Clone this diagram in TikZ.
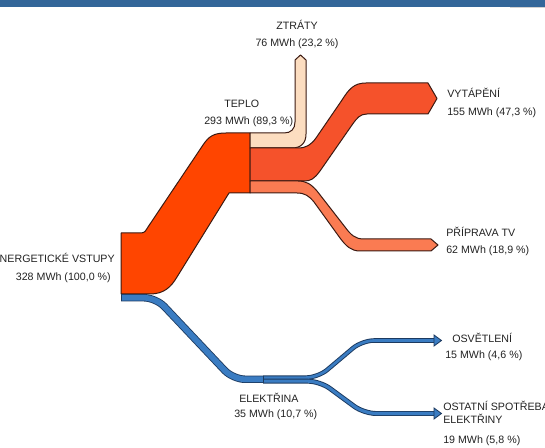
\documentclass[tikz,border=0pt]{standalone}
\usepackage{fontspec}
\setmainfont{Liberation Sans}
\definecolor{barblue}{HTML}{336699}
\definecolor{heatred}{HTML}{FF4500}
\definecolor{spaceheat}{HTML}{F5522B}
\definecolor{hotwater}{HTML}{FA7B52}
\definecolor{losses}{HTML}{FCDDC0}
\definecolor{elecblue}{HTML}{3A7CC2}
\definecolor{redline}{HTML}{3B1A12}
\definecolor{blueline}{HTML}{1C3A60}
\definecolor{txt}{HTML}{222222}
\tikzset{
  flow/.style={draw=redline, line width=0.75pt, line join=round},
  lbl/.style={inner sep=0pt, text=txt, font=\fontsize{8}{9.5}\selectfont},
  elecpath/.style={rounded corners=9pt, line cap=butt, line join=round},
  tipstyle/.style={draw=blueline, fill=elecblue, line width=0.6pt, line join=miter},
}
\begin{document}
\begin{tikzpicture}[x=0.75pt,y=-0.75pt]
\useasboundingbox (0,0) rectangle (545,448);
\clip (0,0) rectangle (545,448);

% title strip
\fill[barblue] (0,0) rectangle (545,7);
\fill[black!18] (510,7) rectangle (545,8.2);

% total input split into heat (orange) part
\draw[flow, fill=heatred] (121,294) -- (121,233) -- (141,233)
  .. controls (145,233) and (146,230) .. (148,227)
  -- (203,145) .. controls (209,136) and (214,133) .. (226,133)
  -- (250,133) -- (250,193) -- (229,193)
  -- (177,277) .. controls (171,287) and (164,294) .. (150,294) -- cycle;

% losses
\draw[flow, fill=losses] (250,133) -- (284,133)
  .. controls (291,133) and (295,129) .. (295,122)
  -- (295,60) -- (300.5,55) -- (306,60) -- (306,134)
  .. controls (306,143) and (301,148) .. (292,148) -- (250,148) -- cycle;

% space heating
\draw[flow, fill=spaceheat] (250,148) -- (298,148)
  .. controls (306,148) and (311,145) .. (316,138)
  -- (342,100) .. controls (349,89) and (354,83) .. (366,83)
  -- (428,83) -- (437,98.5) -- (428,114) -- (367,114)
  .. controls (360,114) and (357,118) .. (352,125)
  -- (320,171) .. controls (314,179) and (311,181) .. (304,181)
  -- (250,181) -- cycle;

% hot water
\draw[flow, fill=hotwater] (250,181) -- (298,181)
  .. controls (306,181) and (311,184) .. (317,191)
  -- (345,227) .. controls (351,235) and (355,239) .. (364,239)
  -- (431,239) -- (438,245) -- (431,251) -- (360,251)
  .. controls (351,251) and (346,246) .. (340,238)
  -- (314,202) .. controls (309,196) and (305,193) .. (297,193)
  -- (250,193) -- cycle;

% electricity input
\coordinate (e0) at (121,297.75);
\coordinate (e1) at (263,379.25);
\draw[elecpath, blueline, line width=5.6pt] (e0) -- (156,297.75) -- (233,379.25) -- (e1);
\draw[elecpath, elecblue, line width=4.3pt] (e0) -- (156,297.75) -- (233,379.25) -- (e1);
\draw[blueline, line width=0.75pt] (121,294) -- (121,301.5);

% lighting
\coordinate (l0) at (263,377.6);
\coordinate (l1) at (434,340.5);
\draw[elecpath, blueline, line width=3.4pt] (l0) -- (318,377.6) -- (362,340.5) -- (l1);
\draw[elecpath, elecblue, line width=2pt] (l0) -- (318,377.6) -- (362,340.5) -- (l1);

% other consumption
\coordinate (o0) at (263,381.2);
\coordinate (o1) at (434,413.5);
\draw[elecpath, blueline, line width=3.7pt] (o0) -- (320,381.2) -- (364,413.5) -- (o1);
\draw[elecpath, elecblue, line width=2.3pt] (o0) -- (320,381.2) -- (364,413.5) -- (o1);

\draw[blueline, line width=0.75pt] (263,375.5) -- (263,383.3);
\draw[tipstyle] (434,335) -- (441.5,340.5) -- (434,346) -- cycle;
\draw[tipstyle] (434,408) -- (441.5,413.5) -- (434,419) -- cycle;

% labels
\node[lbl, anchor=base] (ztr) at (297,30) {ZTRÁTY};
\node[lbl, anchor=base] (ztrv) at (297,47) {76 MWh (23,2 \%)};
\node[lbl, anchor=base west] (tep) at (224,108) {TEPLO};
\node[lbl, anchor=base west] (tepv) at (204,125) {293 MWh (89,3 \%)};
\node[lbl, anchor=base east] (inp) at (115,263) {ENERGETICKÉ VSTUPY};
\node[lbl, anchor=base east] (inpv) at (111,281) {328 MWh (100,0 \%)};
\node[lbl, anchor=base west] (vyt) at (447,98) {VYTÁPĚNÍ};
\node[lbl, anchor=base west] (vytv) at (447,116) {155 MWh (47,3 \%)};
\node[lbl, anchor=base west] (tv) at (446,237) {PŘÍPRAVA TV};
\node[lbl, anchor=base west] (tvv) at (446,254) {62 MWh (18,9 \%)};
\node[lbl, anchor=base west] (osv) at (452,342) {OSVĚTLENÍ};
\node[lbl, anchor=base west] (osvv) at (445,358) {15 MWh (4,6 \%)};
\node[lbl, anchor=base west] (ost) at (443,410) {OSTATNÍ SPOTŘEBA};
\node[lbl, anchor=base west] (ost2) at (443,423) {ELEKTŘINY};
\node[lbl, anchor=base west] (ostv) at (443,443) {19 MWh (5,8 \%)};
\node[lbl, anchor=base west] (ele) at (239,402) {ELEKTŘINA};
\node[lbl, anchor=base west] (elev) at (234,417) {35 MWh (10,7 \%)};
\end{tikzpicture}
\end{document}
